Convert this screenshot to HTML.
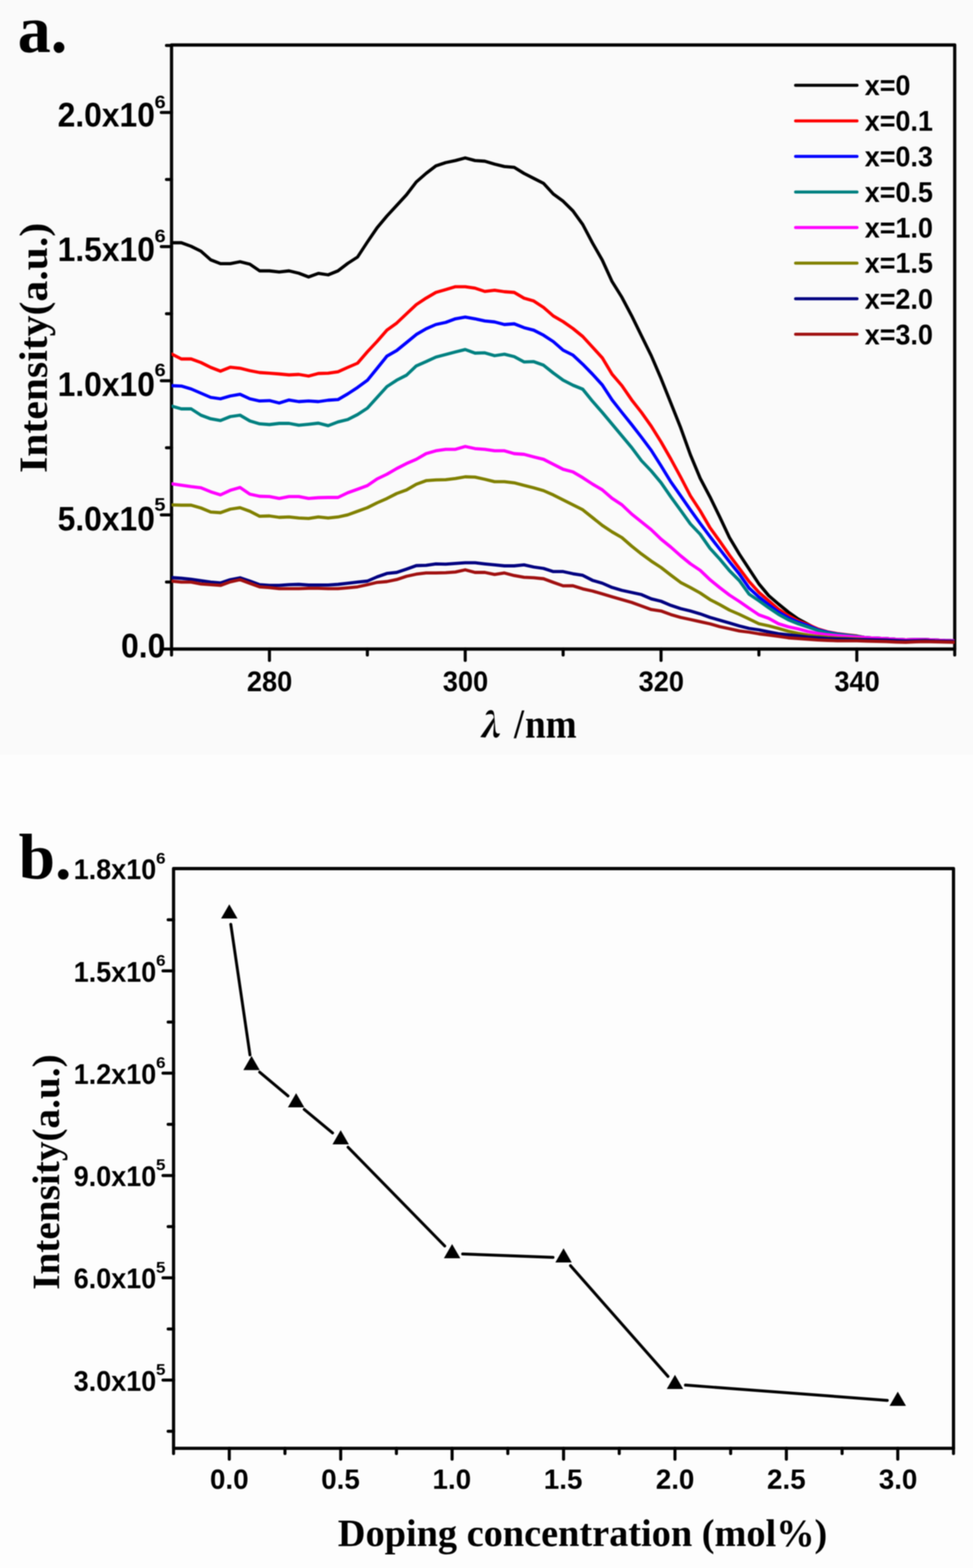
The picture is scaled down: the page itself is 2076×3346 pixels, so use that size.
<!DOCTYPE html>
<html><head><meta charset="utf-8"><title>Figure</title>
<style>html,body{margin:0;padding:0;background:#fdfdfd;} svg{display:block;filter:blur(1px);}</style>
</head><body>
<svg width="2076" height="3346" viewBox="0 0 2076 3346">
<rect x="0" y="0" width="2076" height="3346" fill="#fdfdfd"/>
<rect x="0" y="0" width="2076" height="1611" fill="#fafafa"/>
<rect x="366" y="96" width="1671" height="1289" fill="none" stroke="#000" stroke-width="6.8" stroke-linejoin="round"/>
<line x1="344.2" y1="1385.0" x2="366.0" y2="1385.0" stroke="#000" stroke-width="6.5" stroke-linecap="round"/>
<line x1="355.2" y1="1241.9" x2="366.0" y2="1241.9" stroke="#000" stroke-width="6.5" stroke-linecap="round"/>
<line x1="344.2" y1="1098.8" x2="366.0" y2="1098.8" stroke="#000" stroke-width="6.5" stroke-linecap="round"/>
<line x1="355.2" y1="955.6" x2="366.0" y2="955.6" stroke="#000" stroke-width="6.5" stroke-linecap="round"/>
<line x1="344.2" y1="812.5" x2="366.0" y2="812.5" stroke="#000" stroke-width="6.5" stroke-linecap="round"/>
<line x1="355.2" y1="669.4" x2="366.0" y2="669.4" stroke="#000" stroke-width="6.5" stroke-linecap="round"/>
<line x1="344.2" y1="526.2" x2="366.0" y2="526.2" stroke="#000" stroke-width="6.5" stroke-linecap="round"/>
<line x1="355.2" y1="383.1" x2="366.0" y2="383.1" stroke="#000" stroke-width="6.5" stroke-linecap="round"/>
<line x1="344.2" y1="240.0" x2="366.0" y2="240.0" stroke="#000" stroke-width="6.5" stroke-linecap="round"/>
<line x1="355.2" y1="96.9" x2="366.0" y2="96.9" stroke="#000" stroke-width="6.5" stroke-linecap="round"/>
<line x1="366.0" y1="1385.0" x2="366.0" y2="1397.8" stroke="#000" stroke-width="6.5" stroke-linecap="round"/>
<line x1="574.9" y1="1385.0" x2="574.9" y2="1409.2" stroke="#000" stroke-width="6.5" stroke-linecap="round"/>
<line x1="783.8" y1="1385.0" x2="783.8" y2="1397.8" stroke="#000" stroke-width="6.5" stroke-linecap="round"/>
<line x1="992.6" y1="1385.0" x2="992.6" y2="1409.2" stroke="#000" stroke-width="6.5" stroke-linecap="round"/>
<line x1="1201.5" y1="1385.0" x2="1201.5" y2="1397.8" stroke="#000" stroke-width="6.5" stroke-linecap="round"/>
<line x1="1410.4" y1="1385.0" x2="1410.4" y2="1409.2" stroke="#000" stroke-width="6.5" stroke-linecap="round"/>
<line x1="1619.2" y1="1385.0" x2="1619.2" y2="1397.8" stroke="#000" stroke-width="6.5" stroke-linecap="round"/>
<line x1="1828.1" y1="1385.0" x2="1828.1" y2="1409.2" stroke="#000" stroke-width="6.5" stroke-linecap="round"/>
<line x1="2037.0" y1="1385.0" x2="2037.0" y2="1397.8" stroke="#000" stroke-width="6.5" stroke-linecap="round"/>
<text transform="translate(122.96,270.28) scale(0.9452,1)" font-family="'Liberation Sans', Arial, sans-serif" font-size="71.83" font-weight="bold" font-style="normal" >2.0x10</text>
<text transform="translate(122.96,557.08) scale(0.9452,1)" font-family="'Liberation Sans', Arial, sans-serif" font-size="71.83" font-weight="bold" font-style="normal" >1.5x10</text>
<text transform="translate(122.96,844.98) scale(0.9452,1)" font-family="'Liberation Sans', Arial, sans-serif" font-size="71.83" font-weight="bold" font-style="normal" >1.0x10</text>
<text transform="translate(122.96,1131.98) scale(0.9452,1)" font-family="'Liberation Sans', Arial, sans-serif" font-size="71.83" font-weight="bold" font-style="normal" >5.0x10</text>
<text transform="translate(258.34,1403.28) scale(0.9452,1)" font-family="'Liberation Sans', Arial, sans-serif" font-size="71.83" font-weight="bold" font-style="normal" >0.0</text>
<text transform="translate(329.79,231.11) scale(1.1027,1)" font-family="'Liberation Sans', Arial, sans-serif" font-size="38.73" font-weight="bold" font-style="normal" >6</text>
<text transform="translate(329.79,516.61) scale(1.1027,1)" font-family="'Liberation Sans', Arial, sans-serif" font-size="38.73" font-weight="bold" font-style="normal" >6</text>
<text transform="translate(329.79,803.11) scale(1.1027,1)" font-family="'Liberation Sans', Arial, sans-serif" font-size="38.73" font-weight="bold" font-style="normal" >6</text>
<text transform="translate(329.36,1089.73) scale(1.1027,1)" font-family="'Liberation Sans', Arial, sans-serif" font-size="38.73" font-weight="bold" font-style="normal" >5</text>
<text transform="translate(526.63,1475.38) scale(0.9379,1)" font-family="'Liberation Sans', Arial, sans-serif" font-size="61.97" font-weight="bold" font-style="normal" >280</text>
<text transform="translate(944.67,1475.38) scale(0.9379,1)" font-family="'Liberation Sans', Arial, sans-serif" font-size="61.97" font-weight="bold" font-style="normal" >300</text>
<text transform="translate(1362.42,1475.38) scale(0.9379,1)" font-family="'Liberation Sans', Arial, sans-serif" font-size="61.97" font-weight="bold" font-style="normal" >320</text>
<text transform="translate(1780.17,1475.38) scale(0.9379,1)" font-family="'Liberation Sans', Arial, sans-serif" font-size="61.97" font-weight="bold" font-style="normal" >340</text>
<text transform="translate(99.96,1009.37) rotate(-90) scale(1.0596,1)" font-family="'Liberation Serif', 'Times New Roman', serif" font-size="84.00" font-weight="bold">Intensity(a.u.)</text>
<text transform="translate(1023.75,1572.80) scale(0.8955,1)" font-family="'Noto Serif CJK SC', serif" font-size="69.88" font-weight="900" font-style="italic" >&#955;</text>
<text transform="translate(1096.77,1573.71) scale(0.8635,1)" font-family="'Liberation Serif', 'Times New Roman', serif" font-size="88.79" font-weight="bold" font-style="normal" >/</text>
<text transform="translate(1120.22,1573.50) scale(0.9215,1)" font-family="'Liberation Serif', 'Times New Roman', serif" font-size="86.17" font-weight="bold" font-style="normal" >nm</text>
<text transform="translate(37.76,110.56) scale(0.9821,1)" font-family="'Liberation Serif', 'Times New Roman', serif" font-size="143.75" font-weight="bold" font-style="normal" >a.</text>
<text transform="translate(39.80,1875.02) scale(1.0147,1)" font-family="'Liberation Serif', 'Times New Roman', serif" font-size="137.71" font-weight="bold" font-style="normal" >b.</text>
<clipPath id="ca"><rect x="366" y="96" width="1671" height="1289"/></clipPath>
<g clip-path="url(#ca)" fill="none" stroke-linejoin="round" stroke-linecap="round">
<polyline points="366.0,518.0 386.9,518.0 407.8,525.6 428.7,536.0 449.6,554.5 470.4,562.7 491.3,562.7 512.2,558.5 533.1,563.7 554.0,578.0 574.9,578.0 595.8,580.4 616.6,578.0 637.5,583.0 658.4,591.0 679.3,583.4 700.2,586.5 721.1,578.0 742.0,562.0 762.9,548.5 783.8,516.5 804.6,486.0 825.5,461.0 846.4,438.4 867.3,415.6 888.2,388.2 909.1,370.0 930.0,354.0 950.9,347.0 971.7,342.6 992.6,337.0 1013.5,342.6 1034.4,344.0 1055.3,350.2 1076.2,355.4 1097.1,357.2 1118.0,370.0 1138.8,380.6 1159.7,391.3 1180.6,414.0 1201.5,429.3 1222.4,450.0 1243.3,479.0 1264.2,518.6 1285.0,555.0 1305.9,600.8 1326.8,634.3 1347.7,673.8 1368.6,716.4 1389.5,759.0 1410.4,807.7 1431.3,860.0 1452.2,912.6 1473.0,970.4 1493.9,1020.6 1514.8,1060.3 1535.7,1103.2 1556.6,1147.6 1577.5,1182.5 1598.4,1214.3 1619.2,1246.0 1640.1,1271.0 1661.0,1289.0 1681.9,1306.0 1702.8,1320.7 1723.7,1332.0 1744.6,1343.5 1765.5,1349.8 1786.3,1353.8 1807.2,1356.2 1828.1,1357.8 1849.0,1361.0 1869.9,1362.0 1890.8,1363.0 1911.7,1364.5 1932.6,1365.5 1953.5,1365.0 1974.3,1365.0 1995.2,1366.0 2016.1,1367.0 2037.0,1367.5" stroke="#000000" stroke-width="6.8"/>
<polyline points="366.0,755.3 386.9,766.0 407.8,766.0 428.7,773.6 449.6,784.0 470.4,792.0 491.3,783.6 512.2,785.8 533.1,791.0 554.0,795.0 574.9,796.4 595.8,798.0 616.6,800.0 637.5,799.0 658.4,802.5 679.3,797.0 700.2,796.4 721.1,793.4 742.0,784.0 762.9,775.0 783.8,750.8 804.6,728.5 825.5,704.6 846.4,689.4 867.3,669.6 888.2,650.0 909.1,636.2 930.0,624.0 950.9,618.0 971.7,611.8 992.6,611.8 1013.5,614.9 1034.4,621.9 1055.3,619.4 1076.2,622.5 1097.1,624.0 1118.0,636.2 1138.8,642.3 1159.7,656.0 1180.6,674.2 1201.5,686.4 1222.4,701.0 1243.3,718.0 1264.2,740.7 1285.0,763.6 1305.9,798.5 1326.8,822.9 1347.7,853.3 1368.6,880.0 1389.5,909.5 1410.4,943.0 1431.3,979.5 1452.2,1018.0 1473.0,1058.0 1493.9,1090.0 1514.8,1126.0 1535.7,1155.0 1556.6,1185.0 1577.5,1213.0 1598.4,1241.0 1619.2,1264.0 1640.1,1282.0 1661.0,1300.0 1681.9,1313.5 1702.8,1325.0 1723.7,1333.0 1744.6,1341.9 1765.5,1348.3 1786.3,1352.2 1807.2,1354.6 1828.1,1357.0 1849.0,1361.0 1869.9,1362.0 1890.8,1363.0 1911.7,1364.5 1932.6,1365.5 1953.5,1365.0 1974.3,1365.0 1995.2,1366.0 2016.1,1367.0 2037.0,1367.5" stroke="#ff0000" stroke-width="6.8"/>
<polyline points="366.0,823.0 386.9,823.8 407.8,830.0 428.7,839.0 449.6,848.0 470.4,851.0 491.3,845.0 512.2,841.4 533.1,851.0 554.0,855.7 574.9,854.8 595.8,860.0 616.6,853.6 637.5,857.0 658.4,855.7 679.3,857.0 700.2,854.0 721.1,852.7 742.0,840.5 762.9,826.8 783.8,811.6 804.6,786.0 825.5,760.0 846.4,748.0 867.3,731.0 888.2,713.8 909.1,701.6 930.0,692.5 950.9,688.0 971.7,680.3 992.6,676.6 1013.5,680.3 1034.4,684.9 1055.3,687.0 1076.2,692.5 1097.1,691.0 1118.0,699.2 1138.8,704.6 1159.7,715.3 1180.6,729.0 1201.5,747.2 1222.4,757.7 1243.3,777.2 1264.2,798.5 1285.0,821.4 1305.9,853.3 1326.8,880.0 1347.7,906.0 1368.6,933.0 1389.5,961.0 1410.4,994.0 1431.3,1028.3 1452.2,1058.0 1473.0,1088.0 1493.9,1117.0 1514.8,1145.0 1535.7,1172.0 1556.6,1199.0 1577.5,1225.0 1598.4,1255.0 1619.2,1274.0 1640.1,1290.5 1661.0,1306.0 1681.9,1318.0 1702.8,1327.5 1723.7,1335.0 1744.6,1343.5 1765.5,1349.0 1786.3,1353.0 1807.2,1355.4 1828.1,1357.8 1849.0,1361.0 1869.9,1362.0 1890.8,1363.0 1911.7,1364.5 1932.6,1365.5 1953.5,1365.0 1974.3,1365.0 1995.2,1366.0 2016.1,1367.0 2037.0,1367.5" stroke="#0000ff" stroke-width="6.8"/>
<polyline points="366.0,866.4 386.9,872.5 407.8,872.5 428.7,886.0 449.6,893.7 470.4,897.4 491.3,889.0 512.2,886.0 533.1,898.3 554.0,904.4 574.9,906.0 595.8,903.5 616.6,903.5 637.5,907.4 658.4,905.3 679.3,903.0 700.2,908.4 721.1,900.4 742.0,895.3 762.9,884.6 783.8,871.0 804.6,848.0 825.5,825.0 846.4,811.3 867.3,800.6 888.2,780.8 909.1,771.7 930.0,762.0 950.9,756.5 971.7,751.0 992.6,745.9 1013.5,753.5 1034.4,752.9 1055.3,759.0 1076.2,755.9 1097.1,761.0 1118.0,772.3 1138.8,771.7 1159.7,779.3 1180.6,796.0 1201.5,811.3 1222.4,822.0 1243.3,830.5 1264.2,856.3 1285.0,880.0 1305.9,905.0 1326.8,930.0 1347.7,955.0 1368.6,983.0 1389.5,1005.0 1410.4,1030.0 1431.3,1060.3 1452.2,1089.0 1473.0,1118.0 1493.9,1140.0 1514.8,1170.0 1535.7,1193.0 1556.6,1218.0 1577.5,1239.0 1598.4,1268.0 1619.2,1282.0 1640.1,1297.0 1661.0,1311.0 1681.9,1322.5 1702.8,1331.0 1723.7,1338.0 1744.6,1345.0 1765.5,1350.6 1786.3,1353.8 1807.2,1356.0 1828.1,1357.8 1849.0,1361.0 1869.9,1362.0 1890.8,1363.0 1911.7,1364.5 1932.6,1365.5 1953.5,1365.0 1974.3,1365.0 1995.2,1366.0 2016.1,1367.0 2037.0,1367.5" stroke="#008080" stroke-width="6.8"/>
<polyline points="366.0,1032.3 386.9,1035.4 407.8,1038.4 428.7,1040.8 449.6,1049.4 470.4,1056.0 491.3,1046.3 512.2,1040.2 533.1,1054.5 554.0,1059.0 574.9,1059.7 595.8,1063.7 616.6,1059.7 637.5,1059.7 658.4,1063.7 679.3,1062.0 700.2,1061.5 721.1,1061.5 742.0,1051.5 762.9,1044.0 783.8,1036.3 804.6,1022.0 825.5,1012.0 846.4,999.9 867.3,989.2 888.2,980.1 909.1,968.0 930.0,961.9 950.9,958.8 971.7,958.8 992.6,952.7 1013.5,957.3 1034.4,958.8 1055.3,961.9 1076.2,961.9 1097.1,968.0 1118.0,969.5 1138.8,975.0 1159.7,980.1 1180.6,990.8 1201.5,1001.4 1222.4,1007.0 1243.3,1019.3 1264.2,1033.0 1285.0,1045.2 1305.9,1063.4 1326.8,1077.1 1347.7,1096.9 1368.6,1113.6 1389.5,1130.4 1410.4,1150.5 1431.3,1167.5 1452.2,1186.0 1473.0,1203.0 1493.9,1217.0 1514.8,1237.0 1535.7,1254.0 1556.6,1270.0 1577.5,1283.5 1598.4,1298.0 1619.2,1312.0 1640.1,1319.5 1661.0,1331.0 1681.9,1337.5 1702.8,1342.0 1723.7,1347.5 1744.6,1351.5 1765.5,1354.5 1786.3,1356.5 1807.2,1358.0 1828.1,1359.5 1849.0,1361.0 1869.9,1362.0 1890.8,1363.0 1911.7,1364.5 1932.6,1365.5 1953.5,1365.0 1974.3,1365.0 1995.2,1366.0 2016.1,1367.0 2037.0,1367.5" stroke="#ff00ff" stroke-width="6.8"/>
<polyline points="366.0,1077.4 386.9,1078.0 407.8,1078.0 428.7,1084.0 449.6,1092.6 470.4,1094.0 491.3,1086.5 512.2,1083.4 533.1,1091.0 554.0,1101.7 574.9,1101.0 595.8,1104.0 616.6,1103.2 637.5,1105.3 658.4,1106.3 679.3,1103.2 700.2,1105.3 721.1,1103.2 742.0,1098.6 762.9,1091.0 783.8,1083.4 804.6,1073.0 825.5,1063.8 846.4,1053.1 867.3,1045.5 888.2,1033.4 909.1,1025.7 930.0,1024.2 950.9,1023.6 971.7,1021.2 992.6,1017.5 1013.5,1018.1 1034.4,1022.7 1055.3,1027.9 1076.2,1027.9 1097.1,1030.3 1118.0,1035.8 1138.8,1041.0 1159.7,1047.0 1180.6,1056.2 1201.5,1066.8 1222.4,1077.3 1243.3,1087.8 1264.2,1104.5 1285.0,1121.2 1305.9,1135.0 1326.8,1147.1 1347.7,1165.4 1368.6,1182.1 1389.5,1197.3 1410.4,1211.0 1431.3,1227.3 1452.2,1242.9 1473.0,1253.7 1493.9,1265.4 1514.8,1279.4 1535.7,1290.2 1556.6,1302.0 1577.5,1311.0 1598.4,1321.0 1619.2,1331.0 1640.1,1335.5 1661.0,1341.0 1681.9,1347.0 1702.8,1351.5 1723.7,1355.0 1744.6,1358.0 1765.5,1360.0 1786.3,1361.5 1807.2,1362.5 1828.1,1363.5 1849.0,1365.0 1869.9,1365.5 1890.8,1366.0 1911.7,1367.0 1932.6,1368.0 1953.5,1367.5 1974.3,1367.0 1995.2,1368.0 2016.1,1368.5 2037.0,1369.0" stroke="#808000" stroke-width="6.8"/>
<polyline points="366.0,1232.5 386.9,1234.0 407.8,1236.2 428.7,1239.2 449.6,1242.2 470.4,1244.0 491.3,1237.0 512.2,1233.0 533.1,1240.0 554.0,1247.7 574.9,1249.2 595.8,1249.2 616.6,1247.7 637.5,1247.0 658.4,1248.3 679.3,1248.3 700.2,1248.3 721.1,1247.0 742.0,1244.7 762.9,1242.2 783.8,1240.0 804.6,1231.0 825.5,1223.7 846.4,1221.5 867.3,1214.5 888.2,1207.0 909.1,1206.3 930.0,1203.3 950.9,1203.9 971.7,1202.4 992.6,1200.8 1013.5,1200.8 1034.4,1203.3 1055.3,1205.4 1076.2,1207.5 1097.1,1207.5 1118.0,1205.4 1138.8,1210.0 1159.7,1213.0 1180.6,1219.7 1201.5,1219.7 1222.4,1224.3 1243.3,1227.7 1264.2,1238.4 1285.0,1244.5 1305.9,1253.6 1326.8,1259.7 1347.7,1264.2 1368.6,1268.8 1389.5,1277.9 1410.4,1283.0 1431.3,1291.8 1452.2,1298.8 1473.0,1303.8 1493.9,1309.9 1514.8,1317.5 1535.7,1323.5 1556.6,1329.6 1577.5,1335.7 1598.4,1341.0 1619.2,1344.0 1640.1,1348.3 1661.0,1352.3 1681.9,1354.6 1702.8,1357.0 1723.7,1359.4 1744.6,1361.0 1765.5,1362.5 1786.3,1363.3 1807.2,1364.0 1828.1,1365.0 1849.0,1365.0 1869.9,1365.5 1890.8,1366.0 1911.7,1367.0 1932.6,1368.0 1953.5,1367.5 1974.3,1367.0 1995.2,1368.0 2016.1,1368.5 2037.0,1369.0" stroke="#000080" stroke-width="6.8"/>
<polyline points="366.0,1240.0 386.9,1242.2 407.8,1242.2 428.7,1246.2 449.6,1247.7 470.4,1249.2 491.3,1241.6 512.2,1237.0 533.1,1244.7 554.0,1252.3 574.9,1253.8 595.8,1256.2 616.6,1256.2 637.5,1256.2 658.4,1255.3 679.3,1255.3 700.2,1256.2 721.1,1256.2 742.0,1254.4 762.9,1252.3 783.8,1247.7 804.6,1242.8 825.5,1241.0 846.4,1236.7 867.3,1229.7 888.2,1225.2 909.1,1222.7 930.0,1222.7 950.9,1222.1 971.7,1220.6 992.6,1216.0 1013.5,1221.5 1034.4,1221.5 1055.3,1225.8 1076.2,1222.7 1097.1,1228.2 1118.0,1231.9 1138.8,1232.8 1159.7,1235.0 1180.6,1242.8 1201.5,1250.1 1222.4,1250.0 1243.3,1256.6 1264.2,1261.2 1285.0,1267.3 1305.9,1273.4 1326.8,1279.4 1347.7,1285.5 1368.6,1293.1 1389.5,1300.7 1410.4,1303.8 1431.3,1311.4 1452.2,1317.5 1473.0,1322.0 1493.9,1326.6 1514.8,1331.2 1535.7,1337.2 1556.6,1341.8 1577.5,1346.4 1598.4,1349.0 1619.2,1352.5 1640.1,1355.0 1661.0,1357.8 1681.9,1361.0 1702.8,1362.5 1723.7,1364.0 1744.6,1365.7 1765.5,1366.5 1786.3,1367.3 1807.2,1367.3 1828.1,1367.3 1849.0,1368.0 1869.9,1368.5 1890.8,1369.0 1911.7,1370.0 1932.6,1370.5 1953.5,1369.5 1974.3,1369.0 1995.2,1369.5 2016.1,1370.0 2037.0,1370.5" stroke="#a01010" stroke-width="6.8"/>
</g>
<line x1="1697.5" y1="182.0" x2="1828.5" y2="182.0" stroke="#000000" stroke-width="6.5" stroke-linecap="round"/>
<text transform="translate(1844.92,203.38) scale(0.9293,1)" font-family="'Liberation Sans', Arial, sans-serif" font-size="61.97" font-weight="bold" font-style="normal" >x=0</text>
<line x1="1697.5" y1="257.9" x2="1828.5" y2="257.9" stroke="#ff0000" stroke-width="6.5" stroke-linecap="round"/>
<text transform="translate(1844.92,279.28) scale(0.9293,1)" font-family="'Liberation Sans', Arial, sans-serif" font-size="61.97" font-weight="bold" font-style="normal" >x=0.1</text>
<line x1="1697.5" y1="333.8" x2="1828.5" y2="333.8" stroke="#0000ff" stroke-width="6.5" stroke-linecap="round"/>
<text transform="translate(1844.92,355.18) scale(0.9293,1)" font-family="'Liberation Sans', Arial, sans-serif" font-size="61.97" font-weight="bold" font-style="normal" >x=0.3</text>
<line x1="1697.5" y1="409.7" x2="1828.5" y2="409.7" stroke="#008080" stroke-width="6.5" stroke-linecap="round"/>
<text transform="translate(1844.92,431.08) scale(0.9293,1)" font-family="'Liberation Sans', Arial, sans-serif" font-size="61.97" font-weight="bold" font-style="normal" >x=0.5</text>
<line x1="1697.5" y1="485.6" x2="1828.5" y2="485.6" stroke="#ff00ff" stroke-width="6.5" stroke-linecap="round"/>
<text transform="translate(1844.92,506.98) scale(0.9293,1)" font-family="'Liberation Sans', Arial, sans-serif" font-size="61.97" font-weight="bold" font-style="normal" >x=1.0</text>
<line x1="1697.5" y1="561.5" x2="1828.5" y2="561.5" stroke="#808000" stroke-width="6.5" stroke-linecap="round"/>
<text transform="translate(1844.92,582.26) scale(0.9293,1)" font-family="'Liberation Sans', Arial, sans-serif" font-size="61.97" font-weight="bold" font-style="normal" >x=1.5</text>
<line x1="1697.5" y1="637.4" x2="1828.5" y2="637.4" stroke="#000080" stroke-width="6.5" stroke-linecap="round"/>
<text transform="translate(1844.92,658.78) scale(0.9293,1)" font-family="'Liberation Sans', Arial, sans-serif" font-size="61.97" font-weight="bold" font-style="normal" >x=2.0</text>
<line x1="1697.5" y1="713.3" x2="1828.5" y2="713.3" stroke="#a01010" stroke-width="6.5" stroke-linecap="round"/>
<text transform="translate(1844.92,734.68) scale(0.9293,1)" font-family="'Liberation Sans', Arial, sans-serif" font-size="61.97" font-weight="bold" font-style="normal" >x=3.0</text>
<rect x="370.3" y="1853.5" width="1664.1000000000001" height="1237.1" fill="none" stroke="#000" stroke-width="6.8" stroke-linejoin="round"/>
<line x1="358.8" y1="3054.2" x2="370.3" y2="3054.2" stroke="#000" stroke-width="6.5" stroke-linecap="round"/>
<line x1="347.8" y1="2945.1" x2="370.3" y2="2945.1" stroke="#000" stroke-width="6.5" stroke-linecap="round"/>
<line x1="358.8" y1="2835.9" x2="370.3" y2="2835.9" stroke="#000" stroke-width="6.5" stroke-linecap="round"/>
<line x1="347.8" y1="2726.7" x2="370.3" y2="2726.7" stroke="#000" stroke-width="6.5" stroke-linecap="round"/>
<line x1="358.8" y1="2617.6" x2="370.3" y2="2617.6" stroke="#000" stroke-width="6.5" stroke-linecap="round"/>
<line x1="347.8" y1="2508.4" x2="370.3" y2="2508.4" stroke="#000" stroke-width="6.5" stroke-linecap="round"/>
<line x1="358.8" y1="2399.3" x2="370.3" y2="2399.3" stroke="#000" stroke-width="6.5" stroke-linecap="round"/>
<line x1="347.8" y1="2290.1" x2="370.3" y2="2290.1" stroke="#000" stroke-width="6.5" stroke-linecap="round"/>
<line x1="358.8" y1="2181.0" x2="370.3" y2="2181.0" stroke="#000" stroke-width="6.5" stroke-linecap="round"/>
<line x1="347.8" y1="2071.8" x2="370.3" y2="2071.8" stroke="#000" stroke-width="6.5" stroke-linecap="round"/>
<line x1="358.8" y1="1962.7" x2="370.3" y2="1962.7" stroke="#000" stroke-width="6.5" stroke-linecap="round"/>
<line x1="370.3" y1="3090.6" x2="370.3" y2="3101.8" stroke="#000" stroke-width="6.5" stroke-linecap="round"/>
<line x1="489.2" y1="3090.6" x2="489.2" y2="3113.8" stroke="#000" stroke-width="6.5" stroke-linecap="round"/>
<line x1="608.0" y1="3090.6" x2="608.0" y2="3101.8" stroke="#000" stroke-width="6.5" stroke-linecap="round"/>
<line x1="726.9" y1="3090.6" x2="726.9" y2="3113.8" stroke="#000" stroke-width="6.5" stroke-linecap="round"/>
<line x1="845.8" y1="3090.6" x2="845.8" y2="3101.8" stroke="#000" stroke-width="6.5" stroke-linecap="round"/>
<line x1="964.6" y1="3090.6" x2="964.6" y2="3113.8" stroke="#000" stroke-width="6.5" stroke-linecap="round"/>
<line x1="1083.5" y1="3090.6" x2="1083.5" y2="3101.8" stroke="#000" stroke-width="6.5" stroke-linecap="round"/>
<line x1="1202.4" y1="3090.6" x2="1202.4" y2="3113.8" stroke="#000" stroke-width="6.5" stroke-linecap="round"/>
<line x1="1321.2" y1="3090.6" x2="1321.2" y2="3101.8" stroke="#000" stroke-width="6.5" stroke-linecap="round"/>
<line x1="1440.1" y1="3090.6" x2="1440.1" y2="3113.8" stroke="#000" stroke-width="6.5" stroke-linecap="round"/>
<line x1="1558.9" y1="3090.6" x2="1558.9" y2="3101.8" stroke="#000" stroke-width="6.5" stroke-linecap="round"/>
<line x1="1677.8" y1="3090.6" x2="1677.8" y2="3113.8" stroke="#000" stroke-width="6.5" stroke-linecap="round"/>
<line x1="1796.7" y1="3090.6" x2="1796.7" y2="3101.8" stroke="#000" stroke-width="6.5" stroke-linecap="round"/>
<line x1="1915.5" y1="3090.6" x2="1915.5" y2="3113.8" stroke="#000" stroke-width="6.5" stroke-linecap="round"/>
<line x1="2034.4" y1="3090.6" x2="2034.4" y2="3101.8" stroke="#000" stroke-width="6.5" stroke-linecap="round"/>
<text transform="translate(157.14,1876.19) scale(0.9451,1)" font-family="'Liberation Sans', Arial, sans-serif" font-size="60.99" font-weight="bold" font-style="normal" >1.8x10</text>
<text transform="translate(333.04,1842.67) scale(1.1015,1)" font-family="'Liberation Sans', Arial, sans-serif" font-size="33.10" font-weight="bold" font-style="normal" >6</text>
<text transform="translate(157.14,2094.50) scale(0.9451,1)" font-family="'Liberation Sans', Arial, sans-serif" font-size="60.99" font-weight="bold" font-style="normal" >1.5x10</text>
<text transform="translate(333.04,2060.98) scale(1.1015,1)" font-family="'Liberation Sans', Arial, sans-serif" font-size="33.10" font-weight="bold" font-style="normal" >6</text>
<text transform="translate(157.14,2312.81) scale(0.9451,1)" font-family="'Liberation Sans', Arial, sans-serif" font-size="60.99" font-weight="bold" font-style="normal" >1.2x10</text>
<text transform="translate(333.04,2279.29) scale(1.1015,1)" font-family="'Liberation Sans', Arial, sans-serif" font-size="33.10" font-weight="bold" font-style="normal" >6</text>
<text transform="translate(157.14,2531.13) scale(0.9451,1)" font-family="'Liberation Sans', Arial, sans-serif" font-size="60.99" font-weight="bold" font-style="normal" >9.0x10</text>
<text transform="translate(332.68,2497.27) scale(1.1015,1)" font-family="'Liberation Sans', Arial, sans-serif" font-size="33.10" font-weight="bold" font-style="normal" >5</text>
<text transform="translate(157.14,2749.44) scale(0.9451,1)" font-family="'Liberation Sans', Arial, sans-serif" font-size="60.99" font-weight="bold" font-style="normal" >6.0x10</text>
<text transform="translate(332.68,2715.59) scale(1.1015,1)" font-family="'Liberation Sans', Arial, sans-serif" font-size="33.10" font-weight="bold" font-style="normal" >5</text>
<text transform="translate(157.14,2967.75) scale(0.9451,1)" font-family="'Liberation Sans', Arial, sans-serif" font-size="60.99" font-weight="bold" font-style="normal" >3.0x10</text>
<text transform="translate(332.68,2933.90) scale(1.1015,1)" font-family="'Liberation Sans', Arial, sans-serif" font-size="33.10" font-weight="bold" font-style="normal" >5</text>
<text transform="translate(447.94,3177.41) scale(1.0027,1)" font-family="'Liberation Sans', Arial, sans-serif" font-size="59.15" font-weight="bold" font-style="normal" >0.0</text>
<text transform="translate(685.37,3177.41) scale(1.0027,1)" font-family="'Liberation Sans', Arial, sans-serif" font-size="59.15" font-weight="bold" font-style="normal" >0.5</text>
<text transform="translate(922.81,3177.41) scale(1.0027,1)" font-family="'Liberation Sans', Arial, sans-serif" font-size="59.15" font-weight="bold" font-style="normal" >1.0</text>
<text transform="translate(1160.24,3176.82) scale(1.0027,1)" font-family="'Liberation Sans', Arial, sans-serif" font-size="59.15" font-weight="bold" font-style="normal" >1.5</text>
<text transform="translate(1399.15,3177.41) scale(1.0027,1)" font-family="'Liberation Sans', Arial, sans-serif" font-size="59.15" font-weight="bold" font-style="normal" >2.0</text>
<text transform="translate(1636.58,3177.41) scale(1.0027,1)" font-family="'Liberation Sans', Arial, sans-serif" font-size="59.15" font-weight="bold" font-style="normal" >2.5</text>
<text transform="translate(1874.91,3177.41) scale(1.0027,1)" font-family="'Liberation Sans', Arial, sans-serif" font-size="59.15" font-weight="bold" font-style="normal" >3.0</text>
<text transform="translate(125.64,2752.31) rotate(-90) scale(1.0128,1)" font-family="'Liberation Serif', 'Times New Roman', serif" font-size="82.67" font-weight="bold">Intensity(a.u.)</text>
<text transform="translate(720.87,3299.33) scale(0.9941,1)" font-family="'Liberation Serif', 'Times New Roman', serif" font-size="82.22" font-weight="bold" font-style="normal" >Doping concentration (mol%)</text>
<line x1="492.4" y1="1972.3" x2="533.4" y2="2251.2" stroke="#000" stroke-width="6.2" stroke-linecap="round"/>
<line x1="554.0" y1="2287.9" x2="614.5" y2="2338.6" stroke="#000" stroke-width="6.2" stroke-linecap="round"/>
<line x1="649.1" y1="2367.4" x2="709.6" y2="2417.6" stroke="#000" stroke-width="6.2" stroke-linecap="round"/>
<line x1="742.6" y1="2448.1" x2="948.9" y2="2658.9" stroke="#000" stroke-width="6.2" stroke-linecap="round"/>
<line x1="987.1" y1="2675.9" x2="1179.9" y2="2683.1" stroke="#000" stroke-width="6.2" stroke-linecap="round"/>
<line x1="1217.2" y1="2700.9" x2="1425.2" y2="2937.1" stroke="#000" stroke-width="6.2" stroke-linecap="round"/>
<line x1="1462.5" y1="2955.7" x2="1893.1" y2="2988.3" stroke="#000" stroke-width="6.2" stroke-linecap="round"/>
<polygon points="489.2,1929.8 471.7,1960.1 506.7,1960.1" fill="#000"/>
<polygon points="536.7,2253.3 519.2,2283.6 554.2,2283.6" fill="#000"/>
<polygon points="631.8,2332.8 614.3,2363.1 649.3,2363.1" fill="#000"/>
<polygon points="726.9,2411.8 709.4,2442.1 744.4,2442.1" fill="#000"/>
<polygon points="964.6,2654.8 947.1,2685.1 982.1,2685.1" fill="#000"/>
<polygon points="1202.4,2663.8 1184.9,2694.1 1219.9,2694.1" fill="#000"/>
<polygon points="1440.1,2933.8 1422.6,2964.1 1457.6,2964.1" fill="#000"/>
<polygon points="1915.5,2969.8 1898.0,3000.1 1933.0,3000.1" fill="#000"/>
</svg>
</body></html>
